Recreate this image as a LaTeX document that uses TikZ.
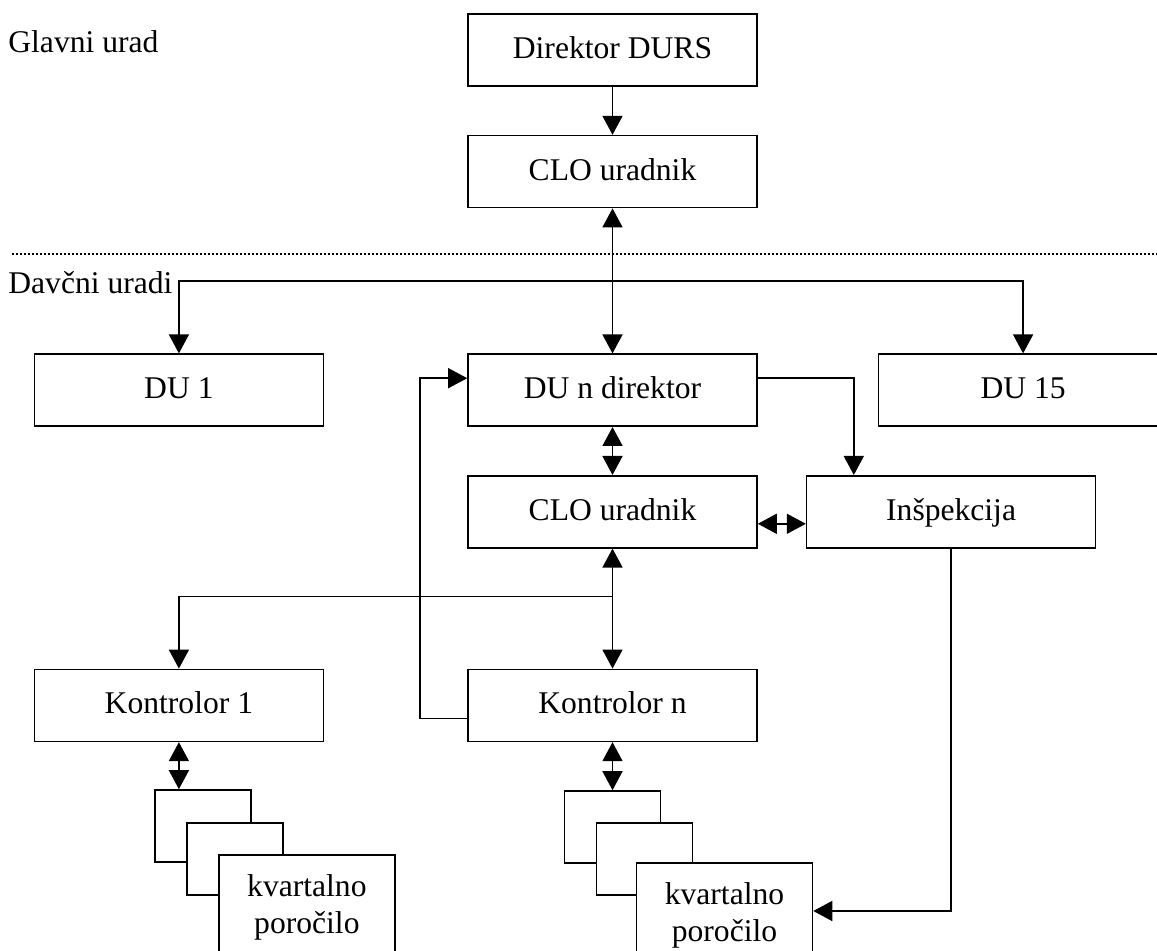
\documentclass[tikz,border=0pt]{standalone}
\usepackage{fontspec}
\setmainfont{Liberation Serif}
\usetikzlibrary{arrows.meta, positioning, calc}

\begin{document}
\begin{tikzpicture}[
  x=0.5pt, y=-0.5pt,
  font=\fontsize{15.8}{18.5}\selectfont,
  office/.style={draw, line width=0.8pt, minimum width=144.5pt, minimum height=36pt, inner sep=0pt, text depth=0.25em},
  report/.style={draw, line width=0.8pt, fill=white, minimum width=48pt, minimum height=36pt, inner sep=0pt, anchor=north west},
  reportfront/.style={report, minimum width=88pt, minimum height=52pt, align=center},
  lbl/.style={inner sep=0pt, anchor=base west},
  arr/.style={-{Triangle[length=9.5pt, width=10pt]}, line width=0.8pt},
  darr/.style={{Triangle[length=9.5pt, width=10pt]}-{Triangle[length=9.5pt, width=10pt]}, line width=0.8pt},
  sep/.style={line width=0.8pt, dash pattern=on 1pt off 1pt}
]
\useasboundingbox (0,0) rectangle (1157,951);
\clip (0,0) rectangle (1157,951);

\node[lbl] (glavni) at (8,53) {Glavni urad};
\node[lbl] (davcni) at (8,294) {Davčni uradi};
\draw[sep] (12,254) -- (1157,254);

\node[office] (durs) at (612.5,50) {Direktor DURS};
\node[office, below=24pt of durs] (clohq) {CLO uradnik};
\node[office, below=72.5pt of clohq] (dun) {DU n direktor};
\node[office, left=71.5pt of dun] (du1) {DU 1};
\node[office, right=60pt of dun] (du15) {DU 15};
\node[office, below=24pt of dun] (clodu) {CLO uradnik};
\node[office, right=24pt of clodu] (insp) {Inšpekcija};
\node[office, below=60pt of clodu] (konn) {Kontrolor n};
\node[office, left=71.5pt of konn] (kon1) {Kontrolor 1};

% quarterly reports
\node[report, anchor=north, below=23.5pt of kon1, xshift=12pt] (kr1) {};
\node[report] (kr2) at ($(kr1.north west)+(32,33)$) {};
\node[reportfront] (kr3) at ($(kr2.north west)+(32,32)$) {kvartalno\\poročilo};
\node[report, anchor=north, below=24pt of konn] (kn1) {};
\node[report] (kn2) at ($(kn1.north west)+(32,32)$) {};
\node[reportfront] (kn3) at ($(kn2.north west)+(40,40)$) {kvartalno\\poročilo};

\coordinate (split) at ($(clohq.south)!0.5!(dun.north)$);
\coordinate (fork) at ($(clodu.south)!0.4!(konn.north)$);

\draw[arr] (durs) -- (clohq);
\draw[darr] (clohq) -- (dun);
\draw[arr] (split) -| (du1);
\draw[arr] (split) -| (du15);
\draw[darr] (dun) -- (clodu);
\draw[darr] ($(clodu.east)+(0,12)$) -- ($(insp.west)+(0,12)$);
\draw[arr] ($(dun.east)+(0,-12)$) -| ($(insp.north west)+(48,0)$);
\draw[darr] (clodu) -- (konn);
\draw[arr] (fork) -| (kon1);
\draw[arr] ($(konn.west)+(0,13)$) -- ++(-47,0) |- ($(dun.west)+(0,-12)$);
\draw[darr] (kon1.south) -- (kon1.south |- kr1.north);
\draw[darr] (konn) -- (kn1);
\draw[arr] (insp.south) |- ($(kn3.east)+(0,-4)$);
\end{tikzpicture}
\end{document}
